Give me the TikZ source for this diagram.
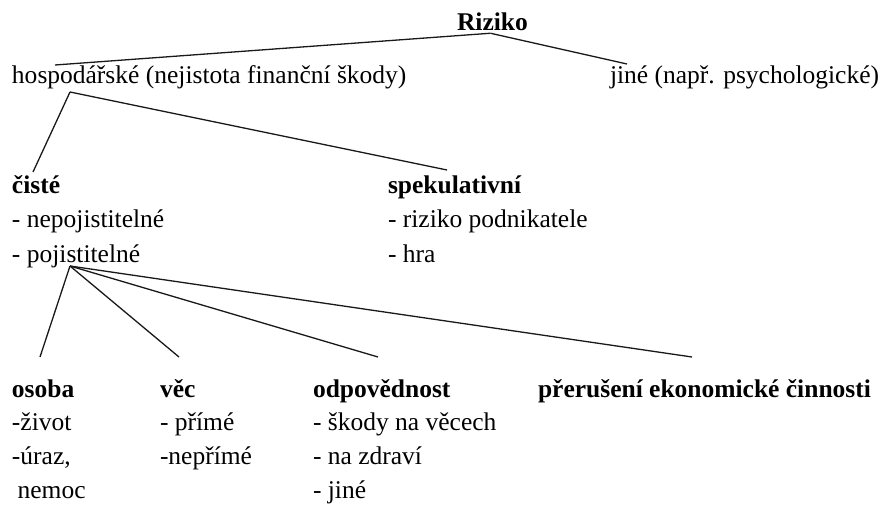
\documentclass[tikz,border=0pt]{standalone}
\usepackage{fontspec}
\setmainfont{Liberation Serif}
\usetikzlibrary{calc}
\tikzset{
  lbl/.style={anchor=base west, inner sep=0pt, outer sep=0pt, font=\fontsize{25.5}{34.5}\selectfont},
  lblb/.style={lbl, font=\fontsize{25.5}{33.8}\selectfont},
  conn/.style={draw=black!90, line width=1.3pt}
}
\newcommand{\blk}[1]{\begin{tabular}[t]{@{}l@{}}#1\end{tabular}}
\begin{document}
\begin{tikzpicture}[x=1pt,y=-1pt]
\useasboundingbox (0,0) rectangle (882,505);
\node[lbl] (riziko) at (457,31) {\textbf{Riziko}};
\node[lbl] (hosp) at (12,84) {hospodářské (nejistota finanční škody)};
\node[lbl] (jine) at (610,84) {jiné (např. psychologické)};
\node[lbl] (ciste) at (12,193) {\blk{\textbf{čisté}\\- nepojistitelné\\- pojistitelné}};
\node[lbl] (spek) at (388,193) {\blk{\textbf{spekulativní}\\- riziko podnikatele\\- hra}};
\node[lblb] (osoba) at (12,397) {\blk{\textbf{osoba}\\-život\\-úraz,\\\hspace*{0.22em}nemoc}};
\node[lblb] (vec) at (160,397) {\blk{\textbf{věc}\\- přímé\\-nepřímé}};
\node[lblb] (odp) at (313,397) {\blk{\textbf{odpovědnost}\\- škody na věcech\\- na zdraví\\- jiné}};
\node[lblb] (prer) at (538,397) {\textbf{přerušení ekonomické činnosti}};

\draw[conn] ([xshift=-2pt,yshift=-2pt]riziko.south) -- ([xshift=43pt,yshift=19pt]hosp.base west);
\draw[conn] ([xshift=-2pt,yshift=-2pt]riziko.south) -- ([xshift=17pt,yshift=20pt]jine.base west);
\draw[conn] ([xshift=58pt,yshift=-8pt]hosp.base west) -- ([xshift=21pt,yshift=21pt]ciste.base west);
\draw[conn] ([xshift=58pt,yshift=-8pt]hosp.base west) -- ([xshift=59pt,yshift=23pt]spek.base west);
\draw[conn] ([xshift=58pt,yshift=-73pt]ciste.base west) -- ([xshift=28pt,yshift=40pt]osoba.base west);
\draw[conn] ([xshift=58pt,yshift=-73pt]ciste.base west) -- ([xshift=19pt,yshift=40pt]vec.base west);
\draw[conn] ([xshift=58pt,yshift=-73pt]ciste.base west) -- ([xshift=65pt,yshift=40pt]odp.base west);
\draw[conn] ([xshift=58pt,yshift=-73pt]ciste.base west) -- ([xshift=154pt,yshift=40pt]prer.base west);
\end{tikzpicture}
\end{document}
